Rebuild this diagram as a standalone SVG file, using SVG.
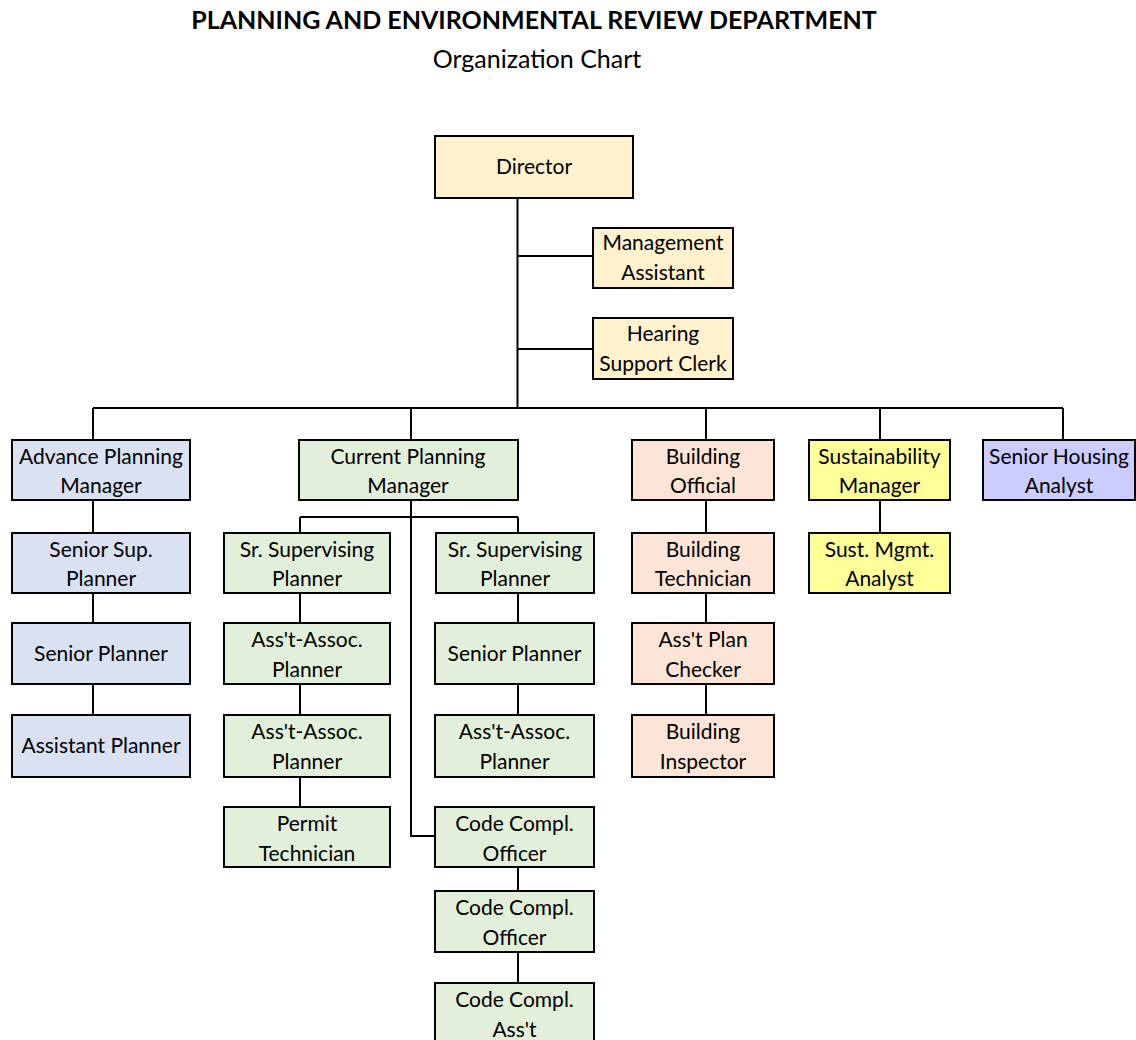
<svg xmlns="http://www.w3.org/2000/svg" width="1136" height="1040" viewBox="0 0 1136 1040">
<style>
.b{stroke:#000;stroke-width:2}
.gold{fill:#FFF2CC}.blue{fill:#D9E1F2}.green{fill:#E2EFDA}.org{fill:#FCE4D6}.yel{fill:#FFFF99}.lav{fill:#CCCCFF}
text{font-family:Lato,"Liberation Sans",sans-serif;font-size:21px;fill:#000;text-anchor:middle}
.t1{font-weight:bold;font-size:25px}
.t2{font-size:25px}
#links path{fill:none;stroke:#000;stroke-width:2}
</style>
<rect width="1136" height="1040" fill="#fff"/>
<text class="t1" x="534" y="29">PLANNING AND ENVIRONMENTAL REVIEW DEPARTMENT</text>
<text class="t2" x="537" y="68">Organization Chart</text>
<g id="links">
<path d="M517.5 198V408M517.5 256H593M517.5 349H593"/>
<path d="M93 408H1063M93 408V440M411 408V440M706 408V440M880 408V440M1063 408V440"/>
<path d="M93 500V533M93 593V623M93 684V715"/>
<path d="M411 500V836H435M300 517H518M300 517V533M518 517V533"/>
<path d="M300 593V623M300 684V715M300 777V807"/>
<path d="M518 593V623M518 684V715M518 867V891M518 952V983"/>
<path d="M706 500V533M706 593V623M706 684V715M880 500V533"/>
</g>
<g id="director"><rect class="b gold" x="435" y="136" width="198" height="62"/><text x="534" y="174">Director</text></g>
<g id="mgmt-assistant"><rect class="b gold" x="593" y="228" width="140" height="60"/><text x="663" y="250">Management</text><text x="663" y="280">Assistant</text></g>
<g id="hearing-clerk"><rect class="b gold" x="593" y="318" width="140" height="61"/><text x="663" y="341">Hearing</text><text x="663" y="371">Support Clerk</text></g>

<g id="adv-planning-mgr"><rect class="b blue" x="12" y="440" width="178" height="60"/><text x="101" y="464">Advance Planning</text><text x="101" y="493">Manager</text></g>
<g id="senior-sup-planner"><rect class="b blue" x="12" y="533" width="178" height="60"/><text x="101" y="557">Senior Sup.</text><text x="101" y="586">Planner</text></g>
<g id="senior-planner-a"><rect class="b blue" x="12" y="623" width="178" height="61"/><text x="101" y="661">Senior Planner</text></g>
<g id="assistant-planner"><rect class="b blue" x="12" y="715" width="178" height="62"/><text x="101" y="753">Assistant Planner</text></g>

<g id="cur-planning-mgr"><rect class="b green" x="299" y="440" width="219" height="60"/><text x="408" y="464">Current Planning</text><text x="408" y="493">Manager</text></g>
<g id="sr-sup-planner-l"><rect class="b green" x="224" y="533" width="166" height="60"/><text x="307" y="557">Sr. Supervising</text><text x="307" y="586">Planner</text></g>
<g id="asst-assoc-l1"><rect class="b green" x="224" y="623" width="166" height="61"/><text x="307" y="647">Ass't-Assoc.</text><text x="307" y="677">Planner</text></g>
<g id="asst-assoc-l2"><rect class="b green" x="224" y="715" width="166" height="62"/><text x="307" y="739">Ass't-Assoc.</text><text x="307" y="769">Planner</text></g>
<g id="permit-tech"><rect class="b green" x="224" y="807" width="166" height="60"/><text x="307" y="831">Permit</text><text x="307" y="861">Technician</text></g>

<g id="sr-sup-planner-r"><rect class="b green" x="436" y="533" width="158" height="60"/><text x="515" y="557">Sr. Supervising</text><text x="515" y="586">Planner</text></g>
<g id="senior-planner-b"><rect class="b green" x="435" y="623" width="159" height="61"/><text x="514.5" y="661">Senior Planner</text></g>
<g id="asst-assoc-r"><rect class="b green" x="435" y="715" width="159" height="62"/><text x="514.5" y="739">Ass't-Assoc.</text><text x="514.5" y="769">Planner</text></g>
<g id="code-officer-1"><rect class="b green" x="435" y="807" width="159" height="60"/><text x="514.5" y="831">Code Compl.</text><text x="514.5" y="861">Officer</text></g>
<g id="code-officer-2"><rect class="b green" x="435" y="891" width="159" height="61"/><text x="514.5" y="915">Code Compl.</text><text x="514.5" y="945">Officer</text></g>
<g id="code-asst"><rect class="b green" x="435" y="983" width="159" height="70"/><text x="514.5" y="1007">Code Compl.</text><text x="514.5" y="1037">Ass't</text></g>

<g id="building-official"><rect class="b org" x="632" y="440" width="142" height="60"/><text x="703" y="464">Building</text><text x="703" y="493">Official</text></g>
<g id="building-tech"><rect class="b org" x="632" y="533" width="142" height="60"/><text x="703" y="557">Building</text><text x="703" y="586">Technician</text></g>
<g id="plan-checker"><rect class="b org" x="632" y="623" width="142" height="61"/><text x="703" y="647">Ass't Plan</text><text x="703" y="677">Checker</text></g>
<g id="building-inspector"><rect class="b org" x="632" y="715" width="142" height="62"/><text x="703" y="739">Building</text><text x="703" y="769">Inspector</text></g>

<g id="sustainability-mgr"><rect class="b yel" x="809" y="440" width="141" height="60"/><text x="879.5" y="464">Sustainability</text><text x="879.5" y="493">Manager</text></g>
<g id="sust-analyst"><rect class="b yel" x="809" y="533" width="141" height="60"/><text x="879.5" y="557">Sust. Mgmt.</text><text x="879.5" y="586">Analyst</text></g>

<g id="senior-housing"><rect class="b lav" x="983" y="440" width="152" height="60"/><text x="1059" y="464">Senior Housing</text><text x="1059" y="493">Analyst</text></g>
</svg>
